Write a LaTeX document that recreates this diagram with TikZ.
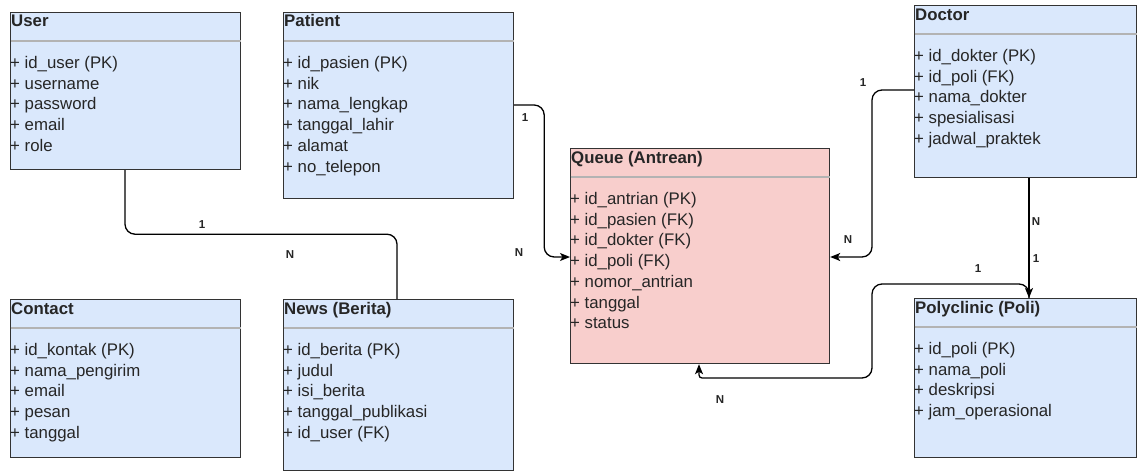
\documentclass[tikz,border=0pt]{standalone}
\usepackage{fontspec}
\setmainfont{Liberation Sans}
\usetikzlibrary{arrows.meta,calc}
\definecolor{bluefill}{HTML}{DAE8FC}
\definecolor{redfill}{HTML}{F8CECC}
\definecolor{edge}{HTML}{333333}
\definecolor{sep}{HTML}{B3B3B3}
\begin{document}
\begin{tikzpicture}[x=1pt,y=-1pt,
  box/.style={draw=edge,line width=1.2pt,fill=bluefill,anchor=north west,inner sep=0pt},
  divider/.style={draw=sep,line width=1.6pt},
  title/.style={anchor=base west,inner sep=0pt,font=\fontsize{16.8}{20}\selectfont\bfseries,text=black!85},
  row/.style={anchor=base west,inner sep=0pt,font=\fontsize{16.8}{20}\selectfont,text=black!85},
  link/.style={line width=1.3pt,rounded corners=10pt},
  tip/.style={-{Stealth[length=10pt,width=8pt,inset=2.5pt]}},
  card/.style={inner sep=0pt,font=\fontsize{11.5}{13}\selectfont\bfseries,text=black!85}]
\path[use as bounding box,fill=white] (0,0) rectangle (1137,471);
% entities
\node[box,minimum width=230pt,minimum height=157pt] (user) at (10,12) {};
\node[box,minimum width=230pt,minimum height=186pt] (patient) at (283,12) {};
\node[box,fill=redfill,minimum width=259pt,minimum height=215pt] (queue) at (570,148) {};
\node[box,minimum width=222pt,minimum height=172pt] (doctor) at (914,5) {};
\node[box,minimum width=222pt,minimum height=159pt] (poly) at (914,298) {};
\node[box,minimum width=230pt,minimum height=158pt] (contact) at (10,299) {};
\node[box,minimum width=230pt,minimum height=171pt] (news) at (283,299) {};
\foreach \e in {user,patient,queue,doctor,poly,contact,news}
  \draw[divider] ($(\e.north west)+(0.6,29)$) -- ($(\e.north east)+(-0.6,29)$);
% titles
\node[title] (user-t) at ($(user.north west)+(1,15)$) {User};
\node[title] (patient-t) at ($(patient.north west)+(1,15)$) {Patient};
\node[title] (queue-t) at ($(queue.north west)+(1,15)$) {Queue (Antrean)};
\node[title] (doctor-t) at ($(doctor.north west)+(1,15)$) {Doctor};
\node[title] (poly-t) at ($(poly.north west)+(1,15)$) {Polyclinic (Poli)};
\node[title] (contact-t) at ($(contact.north west)+(1,15)$) {Contact};
\node[title] (news-t) at ($(news.north west)+(1,15)$) {News (Berita)};
% attributes
\foreach \r [count=\i] in {id\_user (PK),username,password,email,role}
  \node[row] (user-\i) at ($(user.north west)+(0,35.5+\i*20.75)$) {+ \r};
\foreach \r [count=\i] in {id\_pasien (PK),nik,nama\_lengkap,tanggal\_lahir,alamat,no\_telepon}
  \node[row] (patient-\i) at ($(patient.north west)+(0,35.5+\i*20.75)$) {+ \r};
\foreach \r [count=\i] in {id\_antrian (PK),id\_pasien (FK),id\_dokter (FK),id\_poli (FK),nomor\_antrian,tanggal,status}
  \node[row] (queue-\i) at ($(queue.north west)+(0,35.5+\i*20.75)$) {+ \r};
\foreach \r [count=\i] in {id\_dokter (PK),id\_poli (FK),nama\_dokter,spesialisasi,jadwal\_praktek}
  \node[row] (doctor-\i) at ($(doctor.north west)+(0,35.5+\i*20.75)$) {+ \r};
\foreach \r [count=\i] in {id\_poli (PK),nama\_poli,deskripsi,jam\_operasional}
  \node[row] (poly-\i) at ($(poly.north west)+(0,35.5+\i*20.75)$) {+ \r};
\foreach \r [count=\i] in {id\_kontak (PK),nama\_pengirim,email,pesan,tanggal}
  \node[row] (contact-\i) at ($(contact.north west)+(0,35.5+\i*20.75)$) {+ \r};
\foreach \r [count=\i] in {id\_berita (PK),judul,isi\_berita,tanggal\_publikasi,id\_user (FK)}
  \node[row] (news-\i) at ($(news.north west)+(0,35.5+\i*20.75)$) {+ \r};
% relations
\draw[link] ($(user.south west)+(115,0)$) -- ++(0,64) -| ($(news.north west)+(114,0)$);
\draw[link,tip] ($(patient.north east)+(0,93)$) -- ++(30,0) |- ($(queue.north west)+(0,109)$);
\draw[link,tip] ($(doctor.north west)+(0,85)$) -- ++(-42,0) |- ($(queue.north east)+(0,109)$);
\draw[link,tip] ($(doctor.south west)+(115,0)$) -- ($(poly.north west)+(115,0)$);
\draw[link,tip] ($(poly.north west)+(115,0)$) -- ++(0,-14) -- ++(-157,0) -- ++(0,94)
  [rounded corners=3pt] -| ($(queue.south west)+(129,0)$);
% cardinalities
\node[card] (c1) at (202,225) {1};
\node[card] (c2) at (290,255) {N};
\node[card] (c3) at (525,118) {1};
\node[card] (c4) at (519,253) {N};
\node[card] (c5) at (863,83) {1};
\node[card] (c6) at (848,240) {N};
\node[card] (c7) at (1036,222) {N};
\node[card] (c8) at (1036,259) {1};
\node[card] (c9) at (978,269) {1};
\node[card] (c10) at (720,400) {N};
\end{tikzpicture}
\end{document}
